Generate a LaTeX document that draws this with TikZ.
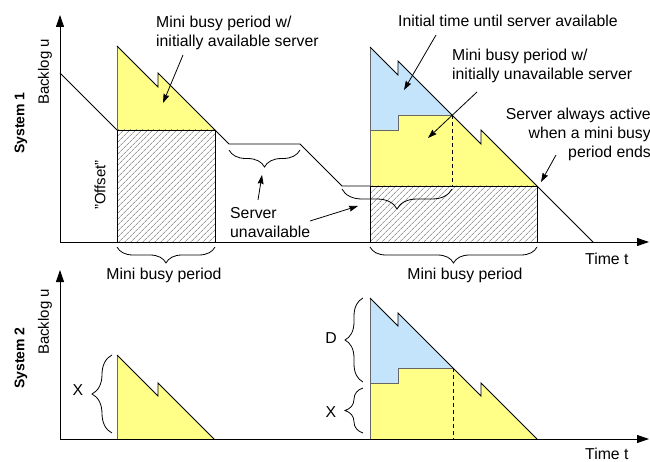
\documentclass[tikz,border=0pt]{standalone}
\usepackage{fontspec}
\setmainfont{Liberation Sans}
\usetikzlibrary{arrows.meta,decorations.pathreplacing,patterns.meta}

\definecolor{busyyellow}{HTML}{FFFF88}
\definecolor{waitblue}{HTML}{C4E4FC}

\begin{document}
\begin{tikzpicture}[x=1pt,y=-1pt,
  lbl/.style={font=\fontsize{15.8}{19}\selectfont, inner sep=0pt},
  syslbl/.style={font=\fontsize{14}{16}\selectfont\bfseries, inner sep=0pt, rotate=90},
  axislbl/.style={font=\fontsize{15}{18}\selectfont, inner sep=0pt, rotate=90},
  axis/.style={line width=0.9pt, -{Triangle[length=12pt,width=8pt]}},
  curve/.style={line width=0.8pt},
  edge/.style={line width=0.8pt, draw=black!60},
  dashline/.style={line width=0.8pt, dash pattern=on 4pt off 3pt},
  callout/.style={line width=0.8pt, -{Stealth[length=9pt,width=6pt,inset=1pt]}},
  bracey/.style={line width=0.8pt, decorate, decoration={brace, amplitude=#1}},
  bracemirror/.style={line width=0.8pt, decorate, decoration={brace, mirror, amplitude=#1}},
  hatch/.style={pattern={Lines[angle=45,distance=4pt,line width=0.5pt]}, pattern color=black!60},
]
\useasboundingbox (0,0) rectangle (650,462);

% ---------------- System 1 ----------------
% shaded regions
\fill[busyyellow] (117,46) -- (158,87) -- (158,73) -- (215,130) -- (117,130) -- cycle;
\fill[waitblue] (370,47) -- (398,75) -- (398,61) -- (452,115) -- (398,115) -- (398,130) -- (370,130) -- cycle;
\fill[busyyellow] (370,130) -- (398,130) -- (398,115) -- (452,115) -- (481,144) -- (481,130) -- (537,186) -- (370,186) -- cycle;
\draw[hatch, curve] (117,130) rectangle (215,242);
\draw[hatch, curve] (370,186) rectangle (537,242);

% backlog curve
\draw[curve] (60,73) -- (117,130);
\draw[edge] (117,130) -- (117,46);
\draw[curve] (117,46) -- (158,87) -- (158,73) -- (215,130) -- (229,144) -- (300,144) -- (342,186) -- (370,186);
\draw[edge] (370,186) -- (370,47);
\draw[edge] (370,130) -- (398,130) -- (398,115) -- (452,115);
\draw[curve] (370,47) -- (398,75) -- (398,61) -- (481,144) -- (481,130) -- (593,242);
\draw[dashline] (452,115) -- (452,186);

% axes
\coordinate (o1) at (60,242);
\coordinate (y1) at (60,15);
\coordinate (x1) at (649,242);
\draw[axis] (o1) -- (y1);
\draw[axis] (o1) -- (x1);

% braces
\draw[bracemirror=16pt] (117,247) -- (215,247);
\draw[bracemirror=16pt] (370,247) -- (537,247);
\draw[bracemirror=17pt] (229,150) -- (300,150);
\draw[bracemirror=20pt] (342,189) -- (452,189);
\coordinate (tipA) at (262,175);
\coordinate (tipB) at (358,206);

% labels
\node[syslbl] (sys1) at (21,123) {System 1};
\node[axislbl] (back1) at (45,72) {Backlog u};
\node[axislbl] (offset) at (100,185) {\char"22 Offset\char"22};
\node[lbl, anchor=base] (mbp1) at (164,279) {Mini busy period};
\node[lbl, anchor=base] (mbp2) at (465,279) {Mini busy period};
\node[lbl, anchor=base west] (time1) at (585,265) {Time t};

\node[lbl, align=left, anchor=north west] (avail) at (156,16) {Mini busy period w/\\initially available server};
\node[lbl, anchor=north west] (initial) at (398,15) {Initial time until server available};
\node[lbl, align=left, anchor=north west] (unavail) at (452,49) {Mini busy period w/\\initially unavailable server};
\node[lbl, align=right, anchor=north east] (always) at (651,108) {Server always active\\when a mini busy\\period ends};
\node[lbl, align=left, anchor=north west] (srvun) at (230,207) {Server\\unavailable};

% callout arrows
\coordinate (availS) at (183,55);   \coordinate (availE) at (163,103);
\coordinate (initS) at (436,35);    \coordinate (initE) at (404,90);
\coordinate (unavS) at (477,92);    \coordinate (unavE) at (428,138);
\coordinate (alwS) at (556,155);    \coordinate (alwE) at (541,182);
\coordinate (srvS1) at (258,200);
\coordinate (srvS2) at (310,221);
\draw[callout] (availS) -- (availE);
\draw[callout] (initS) -- (initE);
\draw[callout] (unavS) -- (unavE);
\draw[callout] (alwS) -- (alwE);
\draw[callout] (srvS1) -- (tipA);
\draw[callout] (srvS2) -- (tipB);

% ---------------- System 2 ----------------
\fill[busyyellow] (117,355) -- (158,396) -- (158,383) -- (214,439) -- (117,439) -- cycle;
\fill[waitblue] (370,298) -- (398,326) -- (398,313) -- (453,368) -- (398,368) -- (398,383) -- (370,383) -- cycle;
\fill[busyyellow] (370,383) -- (398,383) -- (398,368) -- (453,368) -- (481,396) -- (481,383) -- (537,439) -- (370,439) -- cycle;

\draw[edge] (117,439) -- (117,355);
\draw[curve] (117,355) -- (158,396) -- (158,383) -- (214,439);
\draw[edge] (370,439) -- (370,298);
\draw[edge] (370,383) -- (398,383) -- (398,368) -- (453,368);
\draw[curve] (370,298) -- (398,326) -- (398,313) -- (481,396) -- (481,383) -- (537,439);
\draw[dashline] (453,368) -- (453,439);

\coordinate (o2) at (60,439);
\coordinate (y2) at (60,270);
\coordinate (x2) at (649,439);
\draw[axis] (o2) -- (y2);
\draw[axis] (o2) -- (x2);

\draw[bracey=20pt] (112,433) -- (112,355);
\draw[bracey=18pt] (363,382) -- (363,298);
\draw[bracey=18pt] (363,433) -- (363,388);

\node[syslbl] (sys2) at (21,358) {System 2};
\node[axislbl] (back2) at (45,322) {Backlog u};
\node[lbl] (xa) at (78,390) {X};
\node[lbl] (dlbl) at (331,338) {D};
\node[lbl] (xb) at (331,412) {X};
\node[lbl, anchor=base west] (time2) at (585,459) {Time t};
\end{tikzpicture}
\end{document}
